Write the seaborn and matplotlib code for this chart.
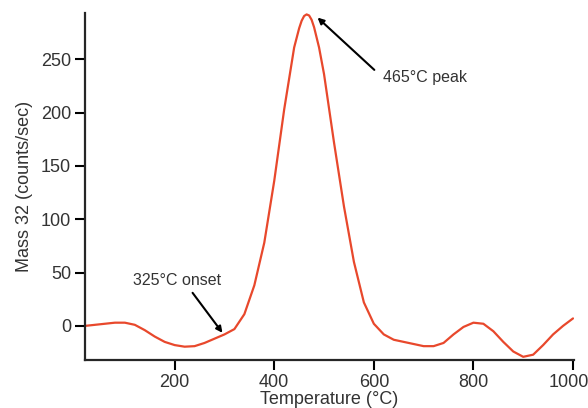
import matplotlib

matplotlib.use("Agg")
import matplotlib.pyplot as plt
import matplotlib.transforms as mtransforms
import pandas as pd
import seaborn as sns

# values
temperature = [20, 40, 60, 80, 100, 120, 140, 160, 180, 200, 220, 240, 260, 280,
               300, 320, 340, 360, 380, 400, 420, 440, 450, 455, 460, 465, 470,
               475, 480, 490, 500, 520, 540, 560, 580, 600, 620, 640, 660, 680,
               700, 720, 740, 760, 780, 800, 820, 840, 860, 880, 900, 920, 940,
               960, 980, 1000]
mass32 = [0, 1, 2, 3, 3, 1, -4, -10, -15, -18, -19.5, -19, -16, -12,
          -8, -3, 11, 38, 78, 136, 203, 261, 279, 286, 290.5, 292, 291,
          287, 280, 261, 236, 172, 112, 60, 22, 2, -8, -13, -15, -17,
          -19, -19, -16, -8, -1, 3, 2, -5, -15, -24, -29, -27, -18,
          -8, 0, 7]

onset_label = "325°C onset"
peak_label = "465°C peak"

sns.set_style("ticks")
plt.rcParams["font.family"] = ["Liberation Sans", "DejaVu Sans"]
plt.rcParams["text.color"] = "#333333"
plt.rcParams["axes.labelcolor"] = "#333333"
plt.rcParams["xtick.color"] = "black"
plt.rcParams["ytick.color"] = "black"
plt.rcParams["xtick.labelcolor"] = "#333333"
plt.rcParams["ytick.labelcolor"] = "#333333"

df = pd.DataFrame({"T": temperature, "m": mass32})

fig = plt.figure(figsize=(5.88, 4.08), dpi=100)
ax = fig.add_axes([0.1446, 0.1176, 0.8316, 0.851])
sns.lineplot(data=df, x="T", y="m", ax=ax, color="#E8482C", lw=1.6)

ax.set_xlim(20, 1002)
ax.set_ylim(-32, 293.5)
ax.set_xticks([200, 400, 600, 800, 1000])
ax.set_yticks([0, 50, 100, 150, 200, 250])
ax.tick_params(labelsize=13, width=1.5, length=7, pad=3)
ax.spines["right"].set_visible(False)
ax.spines["top"].set_visible(False)
ax.spines["left"].set_linewidth(1.6)
ax.spines["bottom"].set_linewidth(1.6)
ax.set_xlabel("Temperature (°C)", fontsize=13, labelpad=0)
ax.set_ylabel("Mass 32 (counts/sec)", fontsize=13, labelpad=6)

# nudge the last tick label so it stays inside the figure
last = ax.xaxis.get_major_ticks()[-1].label1
last.set_transform(last.get_transform()
                   + mtransforms.ScaledTranslation(-0.04, 0, fig.dpi_scale_trans))

arrow = dict(arrowstyle="-|>", color="black", lw=1.5, mutation_scale=9,
             shrinkA=0, shrinkB=0)
ax.annotate("", xy=(296, -6.5), xytext=(236, 31), arrowprops=arrow)
ax.text(204, 43, onset_label, fontsize=11.5, ha="center", va="center")
ax.annotate("", xy=(487, 289), xytext=(601, 240), arrowprops=arrow)
ax.text(618, 233, peak_label, fontsize=11.5, ha="left", va="center")

fig.savefig("out.png", dpi=100)
